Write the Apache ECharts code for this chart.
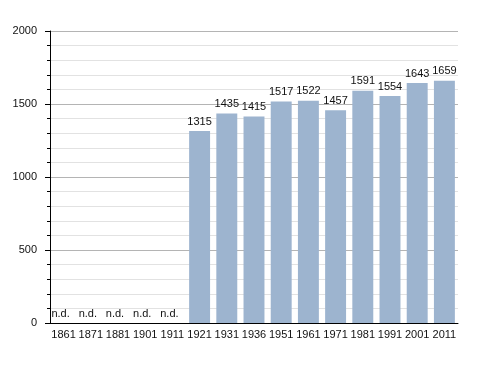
<!DOCTYPE html>
<html>
<head>
<meta charset="utf-8">
<script src="https://cdn.jsdelivr.net/npm/echarts@6/dist/echarts.min.js"></script>
<style>
html,body{margin:0;padding:0;background:#fff;}
#chart{width:488px;height:373px;}
</style>
</head>
<body>
<div id="chart"></div>
<script>
var categories = ['1861','1871','1881','1901','1911','1921','1931','1936','1951','1961','1971','1981','1991','2001','2011'];
var population = [null,null,null,null,null,1315,1435,1415,1517,1522,1457,1591,1554,1643,1659];
var yTicks = [0,500,1000,1500,2000];

var seriesData = population.map(function(v){
  if (v === null) {
    return {value: 0, label: {formatter: 'n.d.', offset: [-3, 0]}};
  }
  return {value: v};
});

var chart = echarts.init(document.getElementById('chart'));
chart.setOption({
  animation: false,
  textStyle: {fontFamily: 'Liberation Sans, Arial, sans-serif'},
  grid: {left: 50, right: 30, top: 31, bottom: 50},
  xAxis: {
    type: 'category',
    data: categories,
    axisLine: {lineStyle: {color: '#000', width: 1}},
    axisTick: {show: false},
    axisLabel: {fontSize: 11, color: '#111', margin: 6, interval: 0}
  },
  yAxis: {
    type: 'value',
    min: yTicks[0],
    max: yTicks[yTicks.length - 1],
    interval: 500,
    axisLine: {show: true, lineStyle: {color: '#000', width: 1}},
    axisTick: {show: true, length: 5, lineStyle: {color: '#000'}},
    minorTick: {show: true, splitNumber: 5, length: 3, lineStyle: {color: '#000'}},
    axisLabel: {fontSize: 11, color: '#111', margin: 13, formatter: function(v){ return String(v); }},
    splitLine: {show: true, lineStyle: {color: '#b4b4b4', width: 1}},
    minorSplitLine: {show: true, lineStyle: {color: '#e2e2e2', width: 1}}
  },
  series: [{
    type: 'bar',
    data: seriesData,
    barCategoryGap: '23%',
    itemStyle: {color: '#9db4cf'},
    label: {show: true, position: 'top', distance: 4, fontSize: 11, color: '#111'}
  }]
});
</script>
</body>
</html>
